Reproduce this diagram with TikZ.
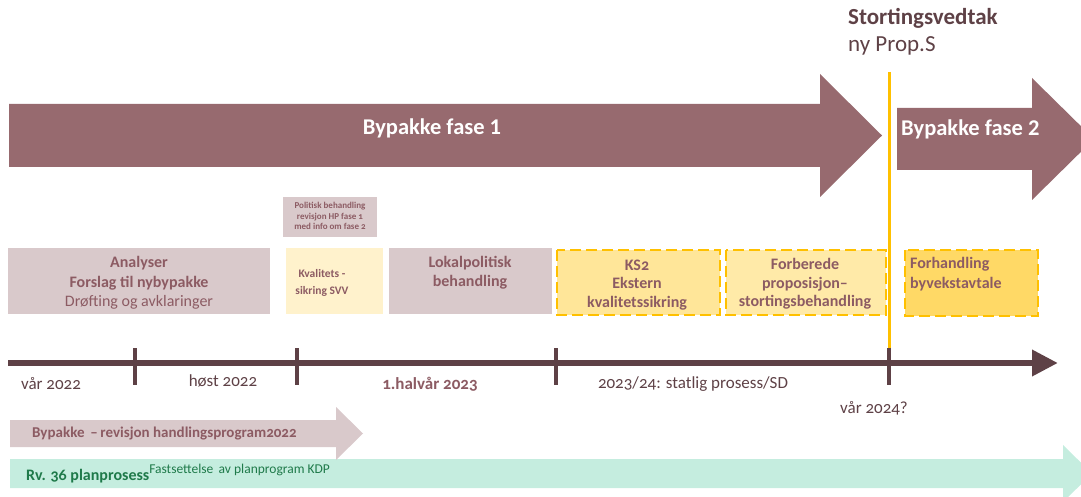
\documentclass[tikz,border=0pt]{standalone}
\usepackage{fontspec}
\setmainfont{Carlito}[Numbers=OldStyle]
\newfontfamily\liningfont{Carlito}
\usetikzlibrary{arrows.meta,positioning}

\definecolor{fasemauve}{HTML}{976A6F}
\definecolor{lightmauve}{HTML}{D9C9CB}
\definecolor{textmauve}{HTML}{8C5B63}
\definecolor{darkline}{HTML}{5E4146}
\definecolor{vedtakgold}{HTML}{FFC000}
\definecolor{kvalcream}{HTML}{FFF2CC}
\definecolor{ksyellow}{HTML}{FFE699}
\definecolor{forbyellow}{HTML}{FFEAA8}
\definecolor{forhandyellow}{HTML}{FFD966}
\definecolor{planmint}{HTML}{C5EDDF}
\definecolor{plangreen}{HTML}{1F7A4A}

\tikzset{
    fasetext/.style={inner sep=0pt, text=white, font=\liningfont\bfseries\fontsize{22.5}{26}\selectfont},
    boxtext/.style={inner sep=0pt, align=center, text=textmauve, font=\bfseries\fontsize{16}{18.5}\selectfont},
    timetext/.style={inner sep=0pt, text=darkline, font=\fontsize{17}{20}\selectfont},
    dashbox/.style={draw=vedtakgold, line width=2.6pt, dash pattern=on 11pt off 5pt},
    timeline/.style={darkline, line width=6.5pt, -{Triangle[length=26pt, width=25pt]}},
    tick/.style={darkline, line width=4pt}
}

\begin{document}
\begin{tikzpicture}[x=1pt, y=-1pt]
    \useasboundingbox (0,0) rectangle (1081,497);
    \clip (0,0) rectangle (1081,497);

    % fase arrows
    \fill[fasemauve] (9,104) -- (820,104) -- (820,74) -- (882,135.5) -- (820,197) -- (820,167) -- (9,167) -- cycle;
    \fill[fasemauve] (897,108) -- (1032,108) -- (1032,78) -- (1094,139) -- (1032,200) -- (1032,170) -- (897,170) -- cycle;
    \node[fasetext] (fase1) at (432,128) {Bypakke fase 1};
    \node[fasetext, anchor=west] (fase2) at (901,129) {Bypakke fase 2};

    \node[inner sep=0pt, anchor=north west, align=left, text=darkline, font=\fontsize{23}{27}\selectfont] (vedtak) at (848,8)
        {\textbf{Stortingsvedtak}\\ny Prop.S};

    % boxes
    \fill[lightmauve] (283,197) rectangle (377,237);
    \fill[lightmauve] (8,248) rectangle (270,314);
    \fill[kvalcream] (286,248) rectangle (383,314);
    \fill[lightmauve] (389,248) rectangle (552,314);
    \draw[dashbox, fill=ksyellow] (557,250) rectangle (720,315);
    \draw[dashbox, fill=forbyellow] (726,250) rectangle (886,315);
    \draw[dashbox, fill=forhandyellow] (905,250) rectangle (1038,316);

    \node[boxtext, font=\bfseries\fontsize{9}{10.5}\selectfont] (politisk) at (330,216)
        {Politisk behandling\\revisjon HP fase 1\\med info om fase 2};
    \node[boxtext, font=\bfseries\fontsize{16}{19.5}\selectfont] (analyser) at (139,283)
        {Analyser\\Forslag til nybypakke\\\mdseries Drøfting og avklaringer};
    \node[boxtext, font=\bfseries\fontsize{11.5}{17}\selectfont] (kvalitet) at (322,283)
        {Kvalitets -\\sikring SVV};
    \node[boxtext, font=\bfseries\fontsize{16}{19}\selectfont] (lokal) at (470,273) {Lokalpolitisk\\behandling};
    \node[boxtext] (ks2) at (637,285) {KS2\\Ekstern\\kvalitetssikring};
    \node[boxtext] (forbered) at (805,284) {Forberede\\proposisjon--\\stortingsbehandling};
    \node[boxtext, anchor=west, align=left, font=\bfseries\fontsize{16}{19.5}\selectfont] (forhandl) at (910,274) {Forhandling\\byvekstavtale};

    % vedtak line
    \coordinate (vedtaktop) at (889,72);
    \coordinate (vedtakbot) at (889,350);
    \draw[vedtakgold, line width=3pt] (vedtaktop) -- (vedtakbot);

    % timeline
    \coordinate (tlstart) at (8,363);
    \coordinate (tlend) at (1058,363);
    \draw[timeline] (tlstart) -- (tlend);
    \foreach \x in {135,297,556,889}
        \draw[tick] (\x,348) -- (\x,385);

    \node[timetext] (var22) at (51,384) {vår 2022};
    \node[timetext] (host22) at (223,381) {høst 2022};
    \node[timetext, text=textmauve, font=\bfseries\fontsize{17}{20}\selectfont] (halvar23) at (430,384) {1.halvår 2023};
    \node[timetext] (statlig) at (693,384) {2023/24: statlig prosess/SD};
    \node[timetext] (var24) at (874,408) {vår 2024?};

    % bottom bars
    \fill[planmint] (10,459) -- (1063,459) -- (1063,445) -- (1092,473.5) -- (1063,502) -- (1063,488) -- (10,488) -- cycle;
    \fill[lightmauve] (10,420) -- (336,420) -- (336,407) -- (363,433.5) -- (336,460) -- (336,447) -- (10,447) -- cycle;
    \node[boxtext, anchor=west, font=\bfseries\fontsize{15}{18}\selectfont] (revisjon) at (32,434)
        {Bypakke \,--\,revisjon handlingsprogram2022};
    \node[inner sep=0pt, anchor=base west, text=plangreen, font=\fontsize{16}{19}\selectfont] (plan) at (26,480)
        {\textbf{Rv. 36 planprosess}\raisebox{6.5pt}{\fontsize{13.5}{15}\selectfont Fastsettelse\, av planprogram KDP}};
\end{tikzpicture}
\end{document}
